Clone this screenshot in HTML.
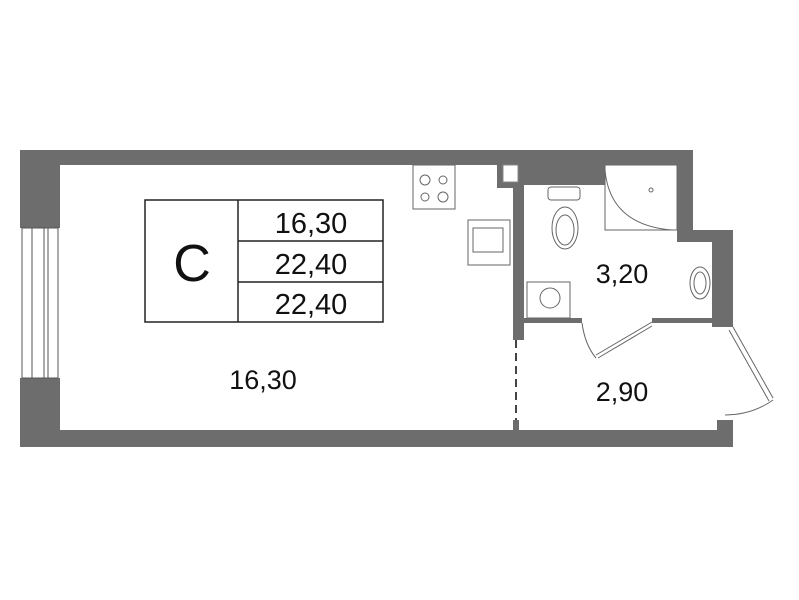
<!DOCTYPE html>
<html><head><style>body{margin:0;background:#fff}svg{display:block}</style></head><body>
<svg width="799" height="600" viewBox="0 0 799 600" xmlns="http://www.w3.org/2000/svg" font-family="Liberation Sans, sans-serif">
<rect width="799" height="600" fill="#fff"/>
<g fill="#6d6d6d">
<rect x="20" y="150" width="673" height="15"/>
<rect x="20" y="150" width="40" height="78"/>
<rect x="20" y="378" width="40" height="69"/>
<rect x="20" y="430" width="713" height="17"/>
<rect x="677" y="150" width="16" height="80"/>
<rect x="677" y="230" width="56" height="12"/>
<rect x="712" y="230" width="21" height="97"/>
<rect x="717" y="420" width="16" height="27"/>
<rect x="497" y="150" width="23" height="38"/>
<rect x="513" y="150" width="92" height="35"/>
<rect x="513" y="165" width="11" height="175"/>
<rect x="513" y="318" width="69" height="5"/>
<rect x="652" y="318" width="65" height="5"/>
<rect x="513" y="420" width="6" height="10"/>
</g>
<rect x="503" y="165" width="15" height="17" fill="#fff" stroke="#888"/>
<rect x="524" y="185" width="81" height="2" fill="#fff"/>
<g stroke="#555" fill="none" stroke-width="1">
<rect x="22" y="228" width="36" height="150" fill="#fff"/>
<line x1="32" y1="228" x2="32" y2="378"/><line x1="44" y1="228" x2="44" y2="378"/><line x1="48" y1="228" x2="48" y2="378"/>
</g>
<line x1="516" y1="340" x2="516" y2="420" stroke="#444" stroke-width="2" stroke-dasharray="8,5"/>
<g stroke="#222" fill="none" stroke-width="1.5">
<rect x="145" y="200" width="238" height="122"/>
<line x1="238" y1="200" x2="238" y2="322"/>
<line x1="238" y1="241" x2="383" y2="241"/>
<line x1="238" y1="282" x2="383" y2="282"/>
</g>
<g fill="#111" text-anchor="middle">
<text x="192" y="281" font-size="52">C</text>
<text x="311" y="233" font-size="29">16,30</text>
<text x="311" y="274" font-size="29">22,40</text>
<text x="311" y="314" font-size="29">22,40</text>
<text x="263" y="389" font-size="27">16,30</text>
<text x="622" y="283" font-size="27">3,20</text>
<text x="622" y="401" font-size="27">2,90</text>
</g>
<g stroke="#666" fill="none" stroke-width="1">
<rect x="413" y="165" width="42" height="44"/>
<circle cx="425" cy="180" r="5"/><circle cx="443" cy="180" r="4"/><circle cx="425" cy="197" r="4"/><circle cx="443" cy="197" r="5"/>
<rect x="468" y="220" width="42" height="45"/><rect x="473" y="228" width="30" height="24"/>
<rect x="548" y="187" width="32" height="13" rx="3"/>
<ellipse cx="565" cy="228" rx="13" ry="21"/><ellipse cx="565" cy="230" rx="9" ry="15"/>
<rect x="605" y="165" width="72" height="65"/>
<path d="M605 170 Q610 225 672 230"/><circle cx="651" cy="190" r="2"/>
<ellipse cx="700" cy="283" rx="10" ry="16"/><ellipse cx="700" cy="283" rx="6" ry="11"/>
<rect x="527" y="282" width="43" height="36"/><circle cx="550" cy="298" r="10"/>
<path d="M582 323 Q585 345 596 358"/>
<path d="M652 322 L596 355 M652 326 L598 358"/>
<path d="M733 327 L773 398 M729 330 L769 401"/>
<path d="M773 400 Q752 415 725 415"/>
</g>
</svg>
</body></html>
